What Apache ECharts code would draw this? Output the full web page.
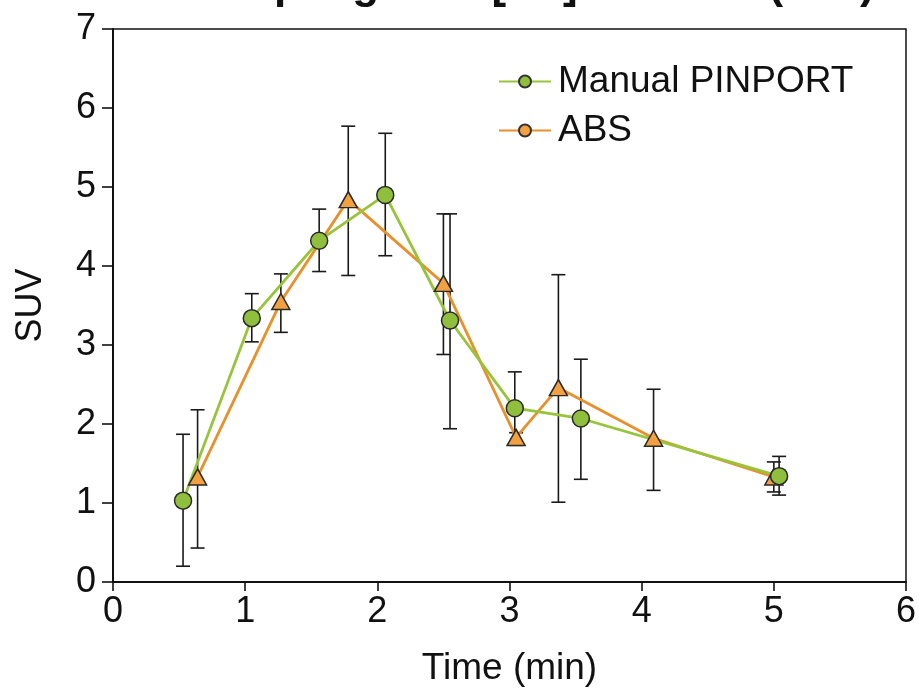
<!DOCTYPE html>
<html>
<head>
<meta charset="utf-8">
<script src="https://cdn.jsdelivr.net/npm/echarts@6/dist/echarts.min.js"></script>
<style>
  html, body { margin: 0; padding: 0; background: #ffffff; }
  #chart { width: 919px; height: 700px; }
</style>
</head>
<body>
<div id="chart"></div>
<script>
// Time points (min) and SUV values for each sampling method
const manualTime = [0.53, 1.05, 1.56, 2.06, 2.55, 3.04, 3.54, 5.04];
const manualSUV  = [1.03, 3.34, 4.32, 4.90, 3.31, 2.20, 2.07, 1.34];
const manualLow  = [0.20, 3.04, 3.93, 4.13, 1.94, 1.75, 1.30, 1.10];
const manualHigh = [1.87, 3.65, 4.72, 5.68, 4.66, 2.66, 2.82, 1.59];

const absTime = [0.64, 1.27, 1.78, 2.50, 3.05, 3.37, 4.09, 5.00];
const absSUV  = [1.33, 3.55, 4.84, 3.78, 1.83, 2.46, 1.82, 1.33];
const absLow  = [0.43, 3.16, 3.88, 2.88, 1.73, 1.01, 1.16, 1.14];
const absHigh = [2.18, 3.90, 5.77, 4.66, 1.89, 3.89, 2.44, 1.52];

const xTicks = [0, 1, 2, 3, 4, 5, 6];
const yTicks = [0, 1, 2, 3, 4, 5, 6, 7];

const GREEN_LINE = '#97c43a';
const GREEN_FILL = '#8fbf3c';
const ORANGE_LINE = '#e8902c';
const ORANGE_FILL = '#f2a040';
const FONT = '"Liberation Sans", Arial, sans-serif';

const pairs = (xs, ys) => xs.map((x, i) => [x, ys[i]]);
const errRows = (xs, lo, hi) => xs.map((x, i) => [x, lo[i], hi[i]]);

// Vertical whisker with caps, from low (value 1) to high (value 2)
function renderErrorBar(params, api) {
  const x = api.value(0);
  const top = api.coord([x, api.value(2)]);
  const bot = api.coord([x, api.value(1)]);
  const hw = 7;
  const style = { stroke: '#1a1a1a', lineWidth: 1.6 };
  return {
    type: 'group',
    children: [
      { type: 'line', shape: { x1: top[0], y1: top[1], x2: bot[0], y2: bot[1] }, style },
      { type: 'line', shape: { x1: top[0] - hw, y1: top[1], x2: top[0] + hw, y2: top[1] }, style },
      { type: 'line', shape: { x1: bot[0] - hw, y1: bot[1], x2: bot[0] + hw, y2: bot[1] }, style }
    ]
  };
}

const chart = echarts.init(document.getElementById('chart'));
chart.setOption({
  backgroundColor: '#ffffff',
  animation: false,
  title: {
    text: 'Sampling with [{s|18}F] tracer D (n=3)',
    left: 176,
    top: -41,
    textStyle: {
      fontFamily: FONT, fontSize: 44, fontWeight: 'bold', color: '#111',
      rich: { s: { fontFamily: FONT, fontSize: 27, fontWeight: 'bold', verticalAlign: 'top', color: '#111' } }
    }
  },
  grid: {
    left: 113, right: 12, top: 29, bottom: 118,
    show: true, borderColor: '#111', borderWidth: 1.5, backgroundColor: 'transparent'
  },
  legend: {
    data: ['Manual PINPORT', 'ABS'],
    orient: 'vertical',
    left: 493,
    top: 58,
    itemWidth: 52,
    itemHeight: 15,
    itemGap: 12,
    selectedMode: false,
    textStyle: { fontFamily: FONT, fontSize: 37, color: '#111', padding: [0, 0, 0, 2] }
  },
  xAxis: {
    type: 'value',
    min: xTicks[0], max: xTicks[xTicks.length - 1], interval: 1,
    name: 'Time (min)',
    nameLocation: 'middle',
    nameGap: 68,
    nameTextStyle: { fontFamily: FONT, fontSize: 37, color: '#111' },
    axisLine: { show: true, onZero: false, lineStyle: { color: '#111', width: 2 } },
    axisTick: { show: true, inside: false, length: 9, lineStyle: { color: '#111', width: 1.6 } },
    axisLabel: { fontFamily: FONT, fontSize: 36, color: '#111', margin: 12 },
    splitLine: { show: false }
  },
  yAxis: {
    type: 'value',
    min: yTicks[0], max: yTicks[yTicks.length - 1], interval: 1,
    name: 'SUV',
    nameLocation: 'middle',
    nameGap: 64,
    nameRotate: 90,
    nameTextStyle: { fontFamily: FONT, fontSize: 36, color: '#111' },
    axisLine: { show: true, onZero: false, lineStyle: { color: '#111', width: 2 } },
    axisTick: { show: true, inside: false, length: 11, lineStyle: { color: '#111', width: 1.6 } },
    axisLabel: { fontFamily: FONT, fontSize: 36, color: '#111', margin: 17 },
    splitLine: { show: false }
  },
  series: [
    {
      name: 'err-abs', type: 'custom', renderItem: renderErrorBar,
      data: errRows(absTime, absLow, absHigh), z: 2, silent: true
    },
    {
      name: 'err-manual', type: 'custom', renderItem: renderErrorBar,
      data: errRows(manualTime, manualLow, manualHigh), z: 2, silent: true
    },
    {
      name: 'ABS', type: 'line', data: pairs(absTime, absSUV),
      symbol: 'none', z: 3,
      lineStyle: { color: ORANGE_LINE, width: 2.8 },
      itemStyle: { color: ORANGE_FILL, borderColor: '#333', borderWidth: 1.5 }
    },
    {
      name: 'Manual PINPORT', type: 'line', data: pairs(manualTime, manualSUV),
      symbol: 'none', z: 4,
      lineStyle: { color: GREEN_LINE, width: 2.8 },
      itemStyle: { color: GREEN_FILL, borderColor: '#333', borderWidth: 1.5 }
    },
    {
      name: 'ABS markers', type: 'scatter', data: pairs(absTime, absSUV),
      symbol: 'triangle', symbolSize: [18, 16], z: 5, silent: true,
      itemStyle: { color: ORANGE_FILL, borderColor: '#2a2a2a', borderWidth: 1.5, opacity: 1 }
    },
    {
      name: 'Manual markers', type: 'scatter', data: pairs(manualTime, manualSUV),
      symbol: 'circle', symbolSize: 17, z: 6, silent: true,
      itemStyle: { color: GREEN_FILL, borderColor: '#2a2a2a', borderWidth: 1.5, opacity: 1 }
    }
  ]
});
</script>
</body>
</html>
